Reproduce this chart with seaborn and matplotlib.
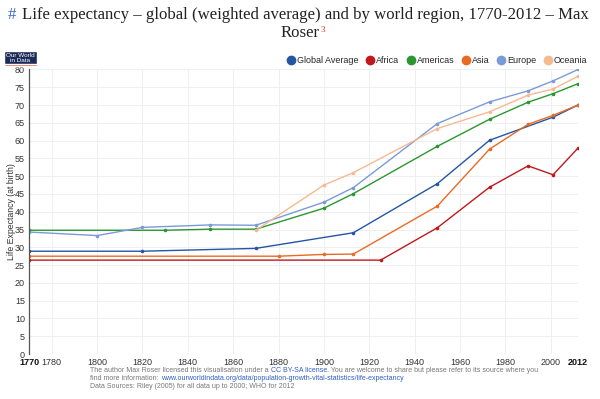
import matplotlib
matplotlib.use("Agg")
import matplotlib.pyplot as plt
from matplotlib.lines import Line2D
from matplotlib.patches import Rectangle
import seaborn as sns
import pandas as pd

# ── Data ──────────────────────────────────────────────────────────────────────
REGIONS = ["Global Average", "Africa", "Americas", "Asia", "Europe", "Oceania"]
COLORS = ["#2456a4", "#c0181b", "#2b9630", "#ea6a24", "#7b9ad8", "#f7b990"]

global_years = [1770, 1820, 1870, 1913, 1950, 1973, 2001, 2012]
global_le = [28.9, 28.9, 29.7, 34.1, 47.9, 60.1, 66.6, 70.0]

africa_years = [1770, 1925, 1950, 1973, 1990, 2001, 2012]
africa_le = [26.4, 26.4, 35.5, 46.9, 52.9, 50.4, 57.9]

americas_years = [1770, 1830, 1850, 1870, 1900, 1913, 1950, 1973, 1990, 2001, 2012]
americas_le = [34.8, 34.8, 35.1, 35.1, 41.0, 45.1, 58.4, 66.0, 70.8, 73.2, 76.0]

asia_years = [1770, 1880, 1900, 1913, 1950, 1973, 1990, 2001, 2012]
asia_le = [27.5, 27.5, 28.0, 28.1, 41.6, 57.6, 64.6, 67.1, 70.0]

europe_years = [1770, 1800, 1820, 1850, 1870, 1900, 1913, 1950, 1973, 1990, 2001, 2012]
europe_le = [34.3, 33.3, 35.6, 36.3, 36.2, 42.7, 46.8, 64.8, 70.9, 74.0, 76.8, 80.0]

oceania_years = [1870, 1900, 1913, 1950, 1973, 1990, 2001, 2012]
oceania_le = [34.8, 47.5, 51.0, 63.4, 68.1, 72.8, 74.5, 78.1]

X_TICKS = [1770, 1780, 1800, 1820, 1840, 1860, 1880, 1900, 1920, 1940, 1960, 1980, 2000, 2012]
Y_TICKS = list(range(0, 85, 5))

series = [global_years, africa_years, americas_years, asia_years, europe_years, oceania_years]
values = [global_le, africa_le, americas_le, asia_le, europe_le, oceania_le]
df = pd.concat([pd.DataFrame({"year": yrs, "le": v, "region": r})
                for r, yrs, v in zip(REGIONS, series, values)], ignore_index=True)

W, H = 600, 399

# ── Plot ──────────────────────────────────────────────────────────────────────
sns.set_style("white")
plt.rcParams["font.family"] = ["Liberation Sans", "DejaVu Sans"]

fig = plt.figure(figsize=(6.0, 3.99), dpi=100)
ax = fig.add_axes([29 / W, 45 / H, 549 / W, 284.5 / H])

sns.lineplot(data=df, x="year", y="le", hue="region", hue_order=REGIONS,
             palette=dict(zip(REGIONS, COLORS)), marker="o", markersize=2.6,
             markeredgewidth=0, linewidth=1.0, legend=False, ax=ax, sort=True)

ax.set_xlim(1770, 2012)
ax.set_ylim(0, 80)
ax.set_xticks(X_TICKS)
ax.set_yticks(Y_TICKS)
ax.set_xticklabels([str(t) for t in X_TICKS], fontsize=6.5, color="#333333")
for lab in ax.get_xticklabels():
    if lab.get_text() in ("1770", "2012"):
        lab.set_fontweight("bold")
        lab.set_color("#111111")
ax.set_yticklabels([str(t) for t in Y_TICKS], fontsize=6.5, color="#333333")
ax.tick_params(axis="both", length=0, pad=3)
ax.grid(True, color="#ededed", linewidth=0.6)
ax.set_axisbelow(True)
for s in ("top", "right", "bottom"):
    ax.spines[s].set_visible(False)
ax.spines["left"].set_color("#555555")
ax.spines["left"].set_linewidth(0.9)
ax.set_xlabel("")
ax.set_ylabel("Life Expectancy (at birth)", fontsize=6.3, color="#333333")
ax.yaxis.set_label_coords(-13 / 549, 0.5)

# Legend (circle markers)
handles = [Line2D([], [], marker="o", linestyle="", markersize=6, color=c) for c in COLORS]
fig.legend(handles, REGIONS, loc="center right", bbox_to_anchor=(0.985, 0.849), ncol=6,
           frameon=False, fontsize=6.5, handletextpad=0.25, columnspacing=0.9,
           handlelength=0.8, borderaxespad=0)

renderer = fig.canvas.get_renderer()


def chain(x0, y, parts, size, family=None):
    """place text pieces one after another, starting at pixel x0"""
    x = x0
    for txt, col in parts:
        t = fig.text(x / W, 1 - y / H, txt, fontsize=size, color=col, va="center",
                     family=family)
        x = t.get_window_extent(renderer).x1
    return x


# Title
tfont = ["Liberation Serif", "DejaVu Serif"]
title1 = "Life expectancy \u2013 global (weighted average) and by world region, 1770-2012 \u2013 Max"
probe = fig.text(0, 0, title1, fontsize=12, family=tfont)
tsize = 12 * 568 / probe.get_window_extent(renderer).width
probe.remove()
fig.text(8 / W, 1 - 15 / H, "#", fontsize=tsize, color="#3a6bc4", family=tfont, va="center")
fig.text(22 / W, 1 - 15 / H, title1, fontsize=tsize, color="#222222", family=tfont, va="center")
roser = fig.text(0.5, 1 - 33 / H, "Roser", fontsize=tsize, color="#222222", family=tfont,
                 va="center", ha="center")
rx = roser.get_window_extent(renderer).x1
fig.text(rx / W + 1 / W, 1 - 30 / H, "3", fontsize=6.5, color="#d23b1e", family=tfont,
         va="center")

# Logo
fig.patches.append(Rectangle((4 / W, 1 - 66 / H), 33 / W, 15 / H,
                             transform=fig.transFigure, facecolor="#1b2a56", zorder=3))
fig.patches.append(Rectangle((4 / W, 1 - 66 / H), 33 / W, 2 / H,
                             transform=fig.transFigure, facecolor="#e0492b", zorder=4))
fig.text(20.5 / W, 1 - 58 / H, "Our World\nin Data", fontsize=4.6, color="white",
         ha="center", va="center", linespacing=0.85, zorder=5)

# Footer
fcol = "#777777"
lcol = "#2f5fc0"
fs = 5.05
chain(90, 371, [("The author Max Roser licensed this visualisation under a ", fcol),
                ("CC BY-SA license", lcol),
                (". You are welcome to share but please refer to its source where you", fcol)], fs)
chain(90, 379, [("find more information: ", fcol),
                ("www.ourworldindata.org/data/population-growth-vital-statistics/life-expectancy",
                 lcol)], fs)
chain(90, 387, [("Data Sources: Riley (2005) for all data up to 2000; WHO for 2012", fcol)], fs)

fig.savefig("out.png", dpi=100)
